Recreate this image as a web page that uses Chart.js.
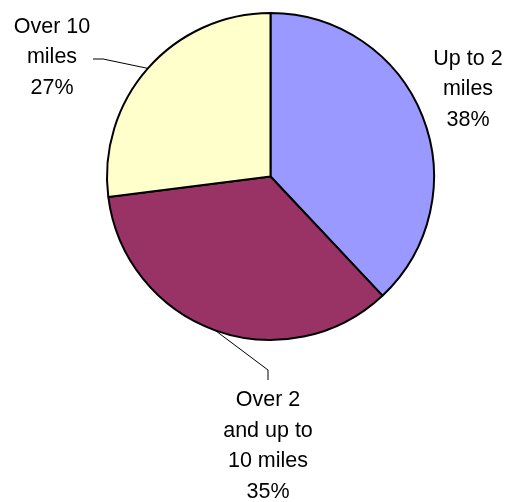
<!DOCTYPE html>
<html>
<head>
<meta charset="utf-8">
<script src="https://cdn.jsdelivr.net/npm/chart.js@4/dist/chart.umd.min.js"></script>
<style>
  html, body { margin: 0; padding: 0; background: #fff; }
  .chart { position: relative; width: 512px; height: 502px; }
</style>
</head>
<body>
<div class="chart">
  <canvas id="pie"></canvas>
</div>
<script>
const categories = ['Up to 2 miles', 'Over 2 and up to 10 miles', 'Over 10 miles']
const labelLines = [
  ['Up to 2', 'miles'],
  ['Over 2', 'and up to', '10 miles'],
  ['Over 10', 'miles']
]
const shares = [38, 35, 27]
const colors = ['#9999FF', '#993366', '#FFFFCC']

// where each label sits, relative to the pie centre (px); leader = bend points of the connector
const labelPlacement = [
  { x: 197.5, y: -87, leader: null },
  { x: -2.5, y: 269.5, leader: [[-2.5, 193.5], [-2.5, 203.5]] },
  { x: -218.5, y: -119, leader: [[-167.5, -117.5], [-177.5, -117.5]] }
]

const pieLabels = {
  id: 'pieLabels',
  afterDraw(chart) {
    const ctx = chart.ctx
    const meta = chart.getDatasetMeta(0)
    ctx.save()
    ctx.font = '21.5px "Liberation Sans", Arial, sans-serif'
    ctx.fillStyle = '#000'
    ctx.textAlign = 'center'
    ctx.textBaseline = 'middle'
    const lineHeight = 30.5
    meta.data.forEach((arc, i) => {
      const { x, y, startAngle, endAngle, outerRadius } = arc.getProps(['x', 'y', 'startAngle', 'endAngle', 'outerRadius'])
      const mid = (startAngle + endAngle) / 2
      const place = labelPlacement[i]
      if (place.leader) {
        ctx.beginPath()
        ctx.strokeStyle = '#000'
        ctx.lineWidth = 1
        ctx.moveTo(x + Math.cos(mid) * outerRadius, y + Math.sin(mid) * outerRadius)
        place.leader.forEach(p => ctx.lineTo(x + p[0], y + p[1]))
        ctx.stroke()
      }
      const lines = labelLines[i].concat([shares[i] + '%'])
      const top = y + place.y - (lines.length - 1) * lineHeight / 2
      lines.forEach((line, k) => {
        ctx.fillText(line, x + place.x, top + k * lineHeight)
      })
    })
    ctx.restore()
  }
}

new Chart(document.getElementById('pie'), {
  type: 'pie',
  data: {
    labels: categories,
    datasets: [{
      data: shares,
      backgroundColor: colors,
      borderColor: '#000',
      borderWidth: 2,
      borderAlign: 'center'
    }]
  },
  options: {
    responsive: true,
    maintainAspectRatio: false,
    animation: false,
    layout: { padding: { left: 106, right: 77, top: 11, bottom: 160 } },
    plugins: {
      legend: { display: false },
      tooltip: { enabled: false }
    }
  },
  plugins: [pieLabels]
})
</script>
</body>
</html>
